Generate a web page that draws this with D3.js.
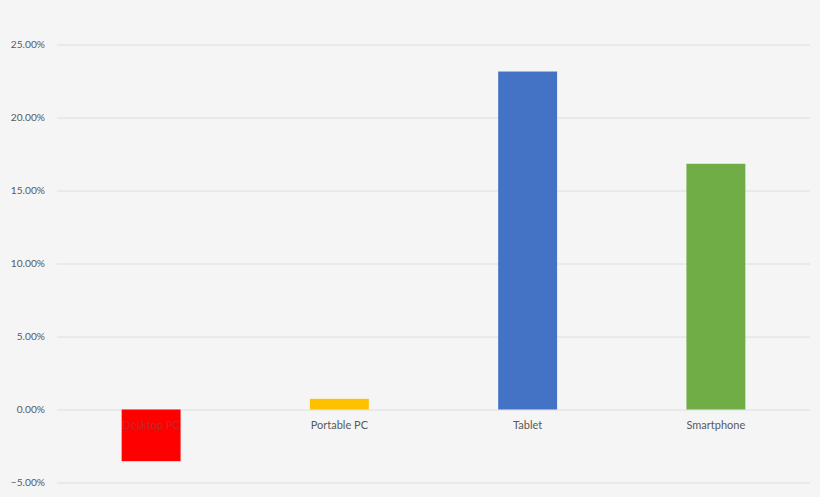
<!DOCTYPE html>
<html>
<head>
<meta charset="utf-8">
<script src="https://cdn.jsdelivr.net/npm/d3@7"></script>
<style>
  html, body { margin: 0; padding: 0; background: #f5f5f5; }
  svg { display: block; }
</style>
</head>
<body>
<svg id="chart" width="820" height="497"></svg>
<script>
const categories = ["Desktop PC", "Portable PC", "Tablet", "Smartphone"];
const growth = [-0.0354, 0.0073, 0.2315, 0.1683];
const barColors = ["#ff0000", "#ffc000", "#4472c4", "#70ad47"];
const yTicks = [-0.05, 0, 0.05, 0.10, 0.15, 0.20, 0.25];

const W = 820, H = 497;
const m = { left: 57, right: 10, top: 44, bottom: 15 };
const svg = d3.select("#chart");
svg.append("rect").attr("width", W).attr("height", H).attr("fill", "#f5f5f5");

const y = d3.scaleLinear().domain([-0.05, 0.25]).range([482.5, 44.5]);
const x = d3.scaleBand().domain(categories).range([m.left, W - m.right]).paddingInner(0.687).paddingOuter(0.3435);

// gridlines
const yAxis = d3.axisLeft(y).tickValues(yTicks).tickFormat(d3.format(".2%")).tickSize(-(W - m.right - m.left)).tickPadding(12);
const gy = svg.append("g").attr("transform", `translate(${m.left},0)`).call(yAxis);
gy.select(".domain").remove();
gy.selectAll(".tick line").attr("stroke", "#dedede").attr("stroke-width", 1);
gy.selectAll(".tick text").attr("fill", "#595959").attr("font-family", "Lato, 'Open Sans', sans-serif").attr("font-size", "10.2px");

// bars
svg.append("g").selectAll("rect").data(categories).join("rect")
  .attr("x", d => x(d))
  .attr("width", x.bandwidth())
  .attr("y", (d, i) => Math.min(y(growth[i]), y(0)))
  .attr("height", (d, i) => Math.abs(y(growth[i]) - y(0)))
  .attr("fill", (d, i) => barColors[i]);

// category labels
svg.append("g").selectAll("text").data(categories).join("text")
  .attr("x", d => x(d) + x.bandwidth() / 2)
  .attr("y", y(0) + 19)
  .attr("text-anchor", "middle")
  .attr("font-family", "Lato, 'Open Sans', sans-serif")
  .attr("font-size", "11px")
  .attr("fill", (d, i) => growth[i] < 0 ? "#c02a2a" : "#595959")
  .text(d => d);
</script>
</body>
</html>
